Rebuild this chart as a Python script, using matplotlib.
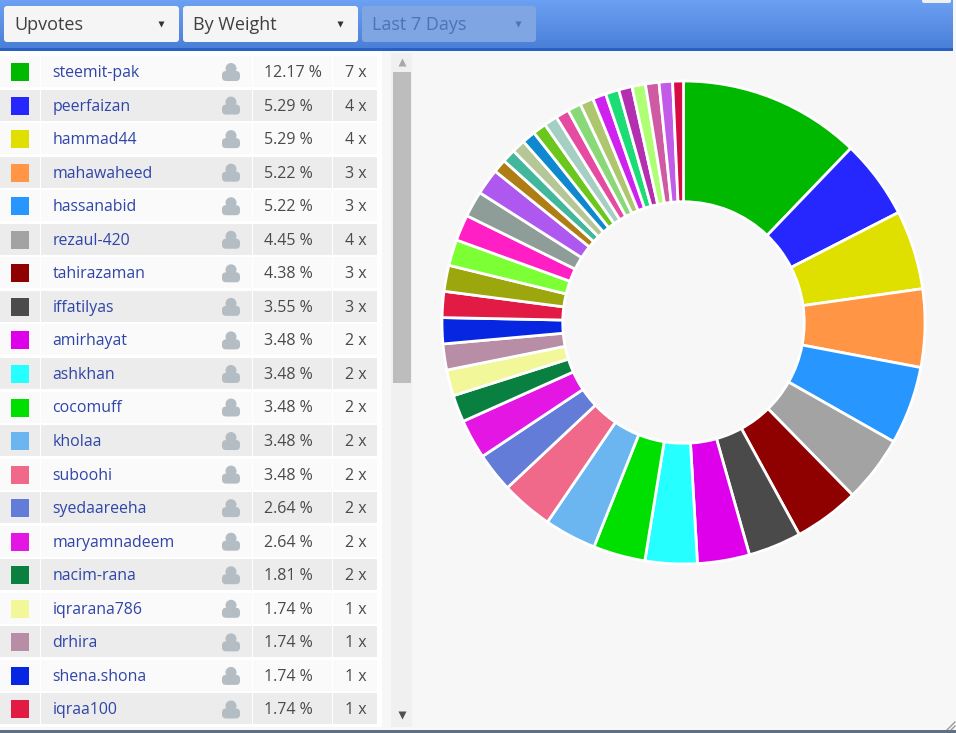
import matplotlib
matplotlib.use("Agg")
import matplotlib.pyplot as plt
from matplotlib.patches import Rectangle, FancyBboxPatch, Circle
import numpy as np

W, H = 956, 733

names = ["steemit-pak", "peerfaizan", "hammad44", "mahawaheed", "hassanabid",
         "rezaul-420", "tahirazaman", "iffatilyas", "amirhayat", "ashkhan",
         "cocomuff", "kholaa", "suboohi", "syedaareeha", "maryamnadeem",
         "nacim-rana", "iqrarana786", "drhira", "shena.shona", "iqraa100"]
weights = [12.17, 5.29, 5.29, 5.22, 5.22, 4.45, 4.38, 3.55, 3.48, 3.48,
           3.48, 3.48, 3.48, 2.64, 2.64, 1.81, 1.74, 1.74, 1.74, 1.74]
counts = [7, 4, 4, 3, 3, 4, 3, 3, 2, 2, 2, 2, 2, 2, 2, 2, 1, 1, 1, 1]
colors = ["#00b800", "#2626ff", "#dfdf00", "#ff9545", "#2796ff",
          "#a3a3a3", "#8f0000", "#4a4a4a", "#de00ea", "#26ffff",
          "#00e000", "#6bb6f0", "#f0688a", "#627cd8", "#e416e4",
          "#0a8040", "#f2f79a", "#b78ea6", "#0626e2", "#e21b44"]

# slices further down the list, not visible in the table
rest_weights = [1.74, 1.74, 1.74, 1.74, 1.74, 0.9, 0.9, 0.9, 0.9, 0.9, 0.9,
                0.9, 0.9, 0.9, 0.9, 0.9, 0.9, 0.9, 0.9, 0.9, 0.72]
rest_colors = ["#9ba70c", "#7dff35", "#ff1fc4", "#8f9d98", "#ae58f0", "#ae7e14",
               "#42b79b", "#b5c797", "#0e88cf", "#6cc71c", "#a5cfc3", "#e54ba0",
               "#8ad978", "#aec76e", "#cf22ef", "#1bdc75", "#b22fb0", "#aeff74",
               "#cf5ba5", "#c25ce8", "#d60d45"]

dropdowns = ["Upvotes", "By Weight", "Last 7 Days"]

plt.rcParams["font.family"] = ["Open Sans", "DejaVu Sans"]

fig = plt.figure(figsize=(W / 100, H / 100), dpi=100, facecolor="#f7f7f7")
ax = fig.add_axes([0, 0, 1, 1])
ax.set_xlim(0, W)
ax.set_ylim(H, 0)
ax.axis("off")

# header bar
grad = np.linspace(0, 1, 48).reshape(-1, 1)
ax.imshow(grad, extent=(0, 953, 48, 0), aspect="auto", zorder=1,
          cmap=matplotlib.colors.LinearSegmentedColormap.from_list("hd", ["#6ba0f2", "#4b80d8"]))
ax.add_patch(Rectangle((0, 48), 953, 2.5, fc="#2a5fc4", ec="none", zorder=2))
ax.set_xlim(0, W)
ax.set_ylim(H, 0)
ax.add_patch(FancyBboxPatch((922, -2), 29, 5, boxstyle="round,pad=0,rounding_size=2",
                            fc="#f0f0f0", ec="none", zorder=3))

btn_x = [(4, 179), (183, 358), (362, 536)]
for i, label in enumerate(dropdowns):
    x0, x1 = btn_x[i]
    fc = "#f5f5f5" if i < 2 else "#7fa5e3"
    tc = "#404040" if i < 2 else "#4f73b5"
    ax.add_patch(FancyBboxPatch((x0, 6), x1 - x0, 36, boxstyle="round,pad=0,rounding_size=3",
                                fc=fc, ec="none", zorder=3))
    ax.text(x0 + 10, 25, label, fontsize=13, color=tc, va="center", ha="left", zorder=4)
    ax.plot([x1 - 18], [23.5], marker="v", ms=4, color="#333333" if i < 2 else "#4f73b5",
            mec="none", zorder=4)

# table
ax.add_patch(Rectangle((0, 51), 382, 676, fc="#ffffff", ec="none", zorder=1))
for i, name in enumerate(names):
    yc = 72 + i * 33.55
    fc = "#fafafa" if i % 2 == 0 else "#ececec"
    for x0, x1 in [(0, 40), (41, 252), (253, 332), (333, 377)]:
        ax.add_patch(Rectangle((x0, yc - 16), x1 - x0, 31, fc=fc, ec="none", zorder=2))
    ax.add_patch(Rectangle((11, yc - 9), 18, 18, fc=colors[i], ec="none", zorder=3))
    ax.text(52.5, yc + 1, name, fontsize=11.45, color="#2f45a8", va="center", ha="left", zorder=3)
    ax.add_patch(Circle((231, yc - 3.5), 5.5, fc="#b5bdc4", ec="none", zorder=3))
    ax.add_patch(FancyBboxPatch((222, yc - 1), 18, 10, boxstyle="round,pad=0,rounding_size=4",
                                fc="#b5bdc4", ec="none", zorder=3))
    ax.text(264, yc + 1, "%.2f %%" % weights[i], fontsize=11.5, color="#4a4a4a", va="center", ha="left", zorder=3)
    ax.text(345, yc + 1, "%d x" % counts[i], fontsize=11.5, color="#4a4a4a", va="center", ha="left", zorder=3)

# scrollbar
ax.add_patch(Rectangle((391, 53), 21, 674, fc="#f0f0f0", ec="none", zorder=2))
ax.add_patch(Rectangle((393, 72), 18, 311, fc="#bdbdbd", ec="none", zorder=3))
ax.plot([402], [62], marker="^", ms=5.5, color="#a8a8a8", mec="none", zorder=4)
ax.plot([402], [715], marker="v", ms=5.5, color="#505050", mec="none", zorder=4)

# resize grip and bottom edge
ax.plot([947, 955], [730, 722], color="#999999", lw=1, zorder=3)
ax.plot([951, 955], [730, 726], color="#999999", lw=1, zorder=3)
ax.add_patch(Rectangle((0, 730), W, 3, fc="#5d7186", ec="none", zorder=4))

# donut
cx, cy, r = 683.5, 322.5, 241.5
pie_ax = fig.add_axes([(cx - r) / W, 1 - (cy + r) / H, 2 * r / W, 2 * r / H])
pie_ax.pie(weights + rest_weights, colors=colors + rest_colors, startangle=90, counterclock=False,
           radius=1, wedgeprops=dict(width=0.5, edgecolor="white", linewidth=2))
pie_ax.set_xlim(-1, 1)
pie_ax.set_ylim(-1, 1)
pie_ax.set_aspect("equal")
pie_ax.axis("off")

fig.savefig("out.png", dpi=100, facecolor=fig.get_facecolor())
